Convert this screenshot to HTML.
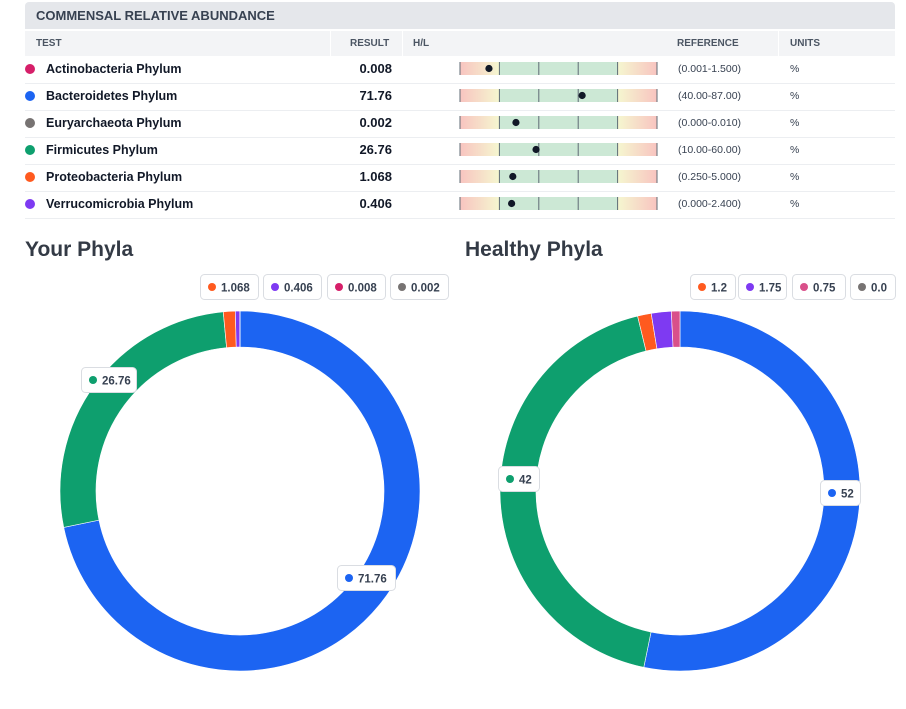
<!DOCTYPE html>
<html><head><meta charset="utf-8">
<style>
body{margin:0;width:906px;height:709px;background:#fff;font-family:"Liberation Sans",sans-serif;position:relative;overflow:hidden;color:#1f2937}
.abs{position:absolute}
.hdr{left:25px;top:2px;width:870px;height:27px;background:#e5e7eb;border-radius:4px 4px 0 0;font-weight:bold;font-size:13px;color:#374151;line-height:27px;box-sizing:border-box;padding-left:11px}
.colh{left:25px;top:31px;width:870px;height:25px;background:#f3f4f6;font-size:10px;font-weight:bold;color:#4b5563;line-height:25px}
.colh span{position:absolute;top:0}
.row{left:25px;width:870px;height:27px;border-bottom:1px solid #eceef1;font-size:12.5px;line-height:26px}
.row .dot{position:absolute;left:0;top:8px;width:10px;height:10px;border-radius:50%}
.row .nm{position:absolute;left:21px;font-weight:bold;color:#111827}
.row .val{position:absolute;right:503px;font-weight:bold;color:#111827;font-size:13px}
.row .ref{position:absolute;left:653px;font-size:10.5px;color:#374151}
.row .un{position:absolute;left:765px;font-size:10.5px;color:#374151}
.title{font-size:21px;font-weight:bold;color:#333a45;top:238px}
</style></head><body>
<div class="abs hdr">COMMENSAL RELATIVE ABUNDANCE</div>
<div class="abs colh">
<span style="left:11px">TEST</span>
<span style="left:305px;width:1px;height:25px;background:#fff"></span>
<span style="left:325px">RESULT</span>
<span style="left:377px;width:1px;height:25px;background:#fff"></span>
<span style="left:388px">H/L</span>
<span style="left:652px">REFERENCE</span>
<span style="left:753px;width:1px;height:25px;background:#fff"></span>
<span style="left:765px">UNITS</span>
</div>
<div id="rows"></div>
<div class="abs title" style="left:25px">Your Phyla</div>
<div class="abs title" style="left:465px">Healthy Phyla</div>
<svg id="ch" class="abs" style="left:0;top:0" width="906" height="709"></svg>
<script>
const names=["Actinobacteria Phylum","Bacteroidetes Phylum","Euryarchaeota Phylum","Firmicutes Phylum","Proteobacteria Phylum","Verrucomicrobia Phylum"];
const results=["0.008","71.76","0.002","26.76","1.068","0.406"];
const refs=["(0.001-1.500)","(40.00-87.00)","(0.000-0.010)","(10.00-60.00)","(0.250-5.000)","(0.000-2.400)"];
const rowColors=["#d61f69","#1c64f2","#777372","#0e9f6e","#ff5a1f","#7e3af2"];
const markerPos=[0.147,0.62,0.284,0.386,0.268,0.262];
const yourCats=["Bacteroidetes","Firmicutes","Proteobacteria","Verrucomicrobia","Actinobacteria","Euryarchaeota"];
const yourVals=[71.76,26.76,1.068,0.406,0.008,0.002];
const yourColors=["#1c64f2","#0e9f6e","#ff5a1f","#7e3af2","#d61f69","#777372"];
const healthyVals=[52,42,1.2,1.75,0.75,0.0];
const healthyColors=["#1c64f2","#0e9f6e","#ff5a1f","#7e3af2","#d9508a","#777372"];
const yourLegend=["1.068","0.406","0.008","0.002"];
const healthyLegend=["1.2","1.75","0.75","0.0"];

const rows=document.getElementById('rows');
names.forEach((n,i)=>{
 const r=document.createElement('div');
 r.className='abs row';r.style.top=(56+27*i)+'px';
 
 
 r.innerHTML=`<div class="dot" style="background:${rowColors[i]}"></div><span class="nm">${n}</span><span class="val">${results[i]}</span><span class="ref">${refs[i]}</span><span class="un">%</span>`;
 rows.appendChild(r);
});

const NS='http://www.w3.org/2000/svg',svg=document.getElementById('ch');
function el(t,a,p){const e=document.createElementNS(NS,t);for(const k in a)e.setAttribute(k,a[k]);(p||svg).appendChild(e);return e;}
// gradient defs
const defs=el('defs',{});
const gl=el('linearGradient',{id:'gl',x1:0,x2:1,y1:0,y2:0},defs);
el('stop',{offset:0,'stop-color':'#f8c4c0'},gl);el('stop',{offset:1,'stop-color':'#f5f7d0'},gl);
const gr=el('linearGradient',{id:'gr',x1:0,x2:1,y1:0,y2:0},defs);
el('stop',{offset:0,'stop-color':'#f5f7d0'},gr);el('stop',{offset:1,'stop-color':'#f8c4c0'},gr);
const bx0=460,bx1=657,seg=(bx1-bx0)/5;
function barX(p){return bx0+p*(bx1-bx0);}
names.forEach((n,i)=>{
 const y=62+27*i;
 const g=el('g',{});
 
 
 el('rect',{x:bx0,y:y,width:seg,height:13,fill:'url(#gl)'},g);
 el('rect',{x:bx0+seg,y:y,width:seg*3,height:13,fill:'#cce8d5'},g);
 el('rect',{x:bx0+seg*4,y:y,width:seg,height:13,fill:'url(#gr)'},g);
 for(let k=0;k<=5;k++)el('rect',{x:bx0+seg*k-0.5,y:y,width:1,height:13,fill:'#5f6b75'},g);
 const d=el('circle',{cx:barX(markerPos[i]),cy:y+6.5,r:3.6,fill:'#111827'},g);
 
 
});

function donut(cx,cy,vals,colors,prefix){
 const tot=vals.reduce((a,b)=>a+b,0),R=180,r=144;let a0=0;
 vals.forEach((v,i)=>{
  if(v<=0)return;
  const a1=a0+v/tot*Math.PI*2;
  const p=(ang,rad)=>[cx+rad*Math.sin(ang),cy-rad*Math.cos(ang)];
  const large=(a1-a0)>Math.PI?1:0;
  const [x1,y1]=p(a0,R),[x2,y2]=p(a1,R),[x3,y3]=p(a1,r),[x4,y4]=p(a0,r);
  const s=el('path',{d:`M${x1},${y1}A${R},${R} 0 ${large} 1 ${x2},${y2}L${x3},${y3}A${r},${r} 0 ${large} 0 ${x4},${y4}Z`,fill:colors[i],stroke:'#fff','stroke-width':0.6});
  
  
  a0=a1;
 });
}
function pill(x,y,w,color,text,name){
 const g=el('g',{});
 
 
 el('rect',{x:x+0.5,y:y+0.5,width:w,height:25,rx:4,fill:'#fff',stroke:'#dadde2'},g);
 el('circle',{cx:x+12,cy:y+13,r:4,fill:color},g);
 const t=el('text',{x:x+21,y:y+17.5,'font-size':11.5,'font-weight':'bold',fill:'#374151','font-family':'Liberation Sans, sans-serif'},g);
 t.textContent=text;
}
donut(240,491,yourVals,yourColors,'your');
donut(680,491,healthyVals,healthyColors,'healthy');
const yl=[[200,58],[263,58],[327,58],[390,58]];
yourLegend.forEach((t,i)=>pill(yl[i][0],274,yl[i][1],yourColors[i+2],t,'your-legend-'+i));
const hl=[[690,45],[738,48],[792,53],[850,45]];
healthyLegend.forEach((t,i)=>pill(hl[i][0],274,hl[i][1],healthyColors[i+2],t,'healthy-legend-'+i));
pill(81,367,55,yourColors[1],String(yourVals[1]),'your-label-firmicutes');
pill(337,565,58,yourColors[0],String(yourVals[0]),'your-label-bacteroidetes');
pill(498,466,41,healthyColors[1],String(healthyVals[1]),'healthy-label-firmicutes');
pill(820,480,40,healthyColors[0],String(healthyVals[0]),'healthy-label-bacteroidetes');
</script>
</body></html>
